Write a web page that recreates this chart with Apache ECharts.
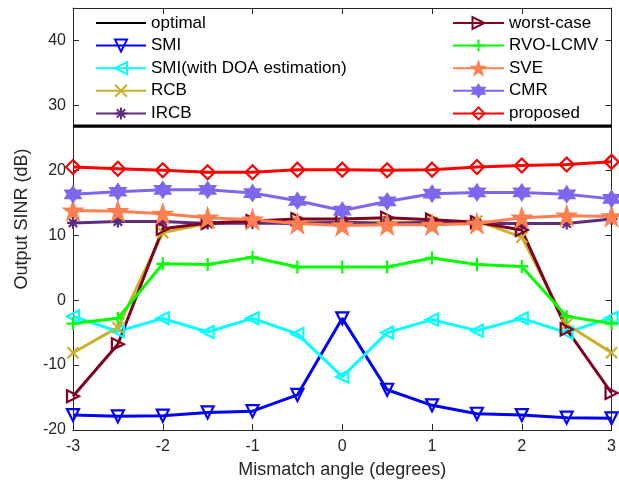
<!DOCTYPE html>
<html>
<head>
<meta charset="utf-8">
<script src="https://cdn.jsdelivr.net/npm/echarts@6/dist/echarts.min.js"></script>
<style>
  html, body { margin: 0; padding: 0; background: #fff; }
  #chart { width: 619px; height: 496px; }
</style>
</head>
<body>
<div id="chart"></div>
<script>
// mismatch angles in degrees
var angles = [-3, -2.5, -2, -1.5, -1, -0.5, 0, 0.5, 1, 1.5, 2, 2.5, 3];

// output SINR (dB)
var optimal   = [26.8, 26.8, 26.8, 26.8, 26.8, 26.8, 26.8, 26.8, 26.8, 26.8, 26.8, 26.8, 26.8];
var smi       = [-17.7, -17.9, -17.8, -17.3, -17.1, -14.6, -2.8, -13.8, -16.2, -17.5, -17.7, -18.1, -18.2];
var smiDoa    = [-2.5, -4.8, -2.8, -4.9, -2.8, -5.2, -11.8, -5.0, -3.0, -4.7, -2.8, -5.0, -2.7];
var rcb       = [-8.1, -4.2, 10.4, 11.8, 12.1, 12.0, 12.0, 12.0, 12.0, 12.2, 9.7, -3.7, -8.1];
var ircb      = [11.9, 12.1, 12.1, 11.8, 11.9, 11.8, 12.0, 11.8, 12.0, 11.8, 11.8, 11.8, 12.5];
var worstCase = [-14.8, -6.8, 11.0, 11.9, 12.2, 12.5, 12.5, 12.7, 12.4, 12.0, 10.8, -4.5, -14.3];
var rvoLcmv   = [-3.6, -2.8, 5.6, 5.5, 6.6, 5.1, 5.1, 5.1, 6.5, 5.5, 5.2, -2.5, -3.6];
var sve       = [13.8, 13.7, 13.3, 12.7, 12.4, 11.8, 11.5, 11.6, 11.6, 11.8, 12.7, 13.0, 12.9];
var cmr       = [16.3, 16.7, 17.0, 17.0, 16.5, 15.3, 13.8, 15.2, 16.4, 16.6, 16.6, 16.3, 15.6];
var proposed  = [20.5, 20.25, 20.0, 19.7, 19.7, 20.1, 20.1, 20.0, 20.1, 20.5, 20.75, 20.9, 21.3];

var yTicks = [-20, -10, 0, 10, 20, 30, 40];

var axisColor = '#262626';
var font = 'Liberation Sans, Arial, Helvetica, sans-serif';

var sym = {
  down:  'path://M0,0L10,0L5,9Z',
  left:  'path://M9,0L9,10L0,5Z',
  right: 'path://M0,0L0,10L9,5Z',
  cross: 'path://M0,0L10,10M10,0L0,10',
  plus:  'path://M5,0L5,10M0,5L10,5',
  aster: 'path://M5,0L5,10M0,5L10,5M1.5,1.5L8.5,8.5M8.5,1.5L1.5,8.5',
  penta: 'path://M5,0L6.2,3.6L10,3.6L6.9,5.9L8.1,9.5L5,7.3L1.9,9.5L3.1,5.9L0,3.6L3.8,3.6Z',
  hexa:  'path://M5,0L6.4,2.5L9.3,2.5L7.9,5L9.3,7.5L6.4,7.5L5,10L3.6,7.5L0.7,7.5L2.1,5L0.7,2.5L3.6,2.5Z'
};

function pairs(vals) {
  return angles.map(function (a, i) { return [a, vals[i]]; });
}

function mk(name, vals, color, symbol, size, hollow) {
  return {
    name: name,
    type: 'line',
    data: pairs(vals),
    symbol: symbol,
    symbolSize: size,
    showSymbol: true,
    lineStyle: { color: color, width: 3 },
    itemStyle: {
      color: hollow ? 'rgba(255,255,255,0)' : color,
      borderColor: color,
      borderWidth: 2.2
    },
    emphasis: { disabled: true },
    z: 3
  };
}

var series = [
  {
    name: 'optimal', type: 'line', data: pairs(optimal),
    symbol: 'circle', symbolSize: 0, showSymbol: false,
    lineStyle: { color: '#000', width: 3.4 }, itemStyle: { color: '#000', opacity: 0 },
    emphasis: { disabled: true }
  },
  mk('SMI', smi, '#0000ff', sym.down, 12, true),
  mk('SMI(with DOA estimation)', smiDoa, '#00ffff', sym.left, 12, true),
  mk('RCB', rcb, '#cbb02a', sym.cross, 11, true),
  mk('IRCB', ircb, '#5e2d7c', sym.aster, 12, true),
  mk('worst-case', worstCase, '#800020', sym.right, 12, true),
  mk('RVO-LCMV', rvoLcmv, '#00ff00', sym.plus, 13, true),
  mk('SVE', sve, '#ff7f50', sym.penta, 17, false),
  mk('CMR', cmr, '#7b68ee', sym.hexa, 15, false),
  mk('proposed', proposed, '#ff0000', 'diamond', 14, true)
];

var legendText = { fontFamily: font, fontSize: 17, color: '#000' };

var chart = echarts.init(document.getElementById('chart'));
chart.setOption({
  animation: false,
  backgroundColor: '#fff',
  grid: { left: 73, right: 7, top: 8, bottom: 66 },
  legend: [
    {
      data: ['optimal', 'SMI', 'SMI(with DOA estimation)', 'RCB', 'IRCB'],
      orient: 'vertical', left: 90, top: 9.5,
      itemWidth: 50, itemHeight: 15, itemGap: 5.6,
      textStyle: legendText, selectedMode: false
    },
    {
      data: ['worst-case', 'RVO-LCMV', 'SVE', 'CMR', 'proposed'],
      orient: 'vertical', left: 447, top: 9.5,
      itemWidth: 51, itemHeight: 15, itemGap: 5.6,
      textStyle: legendText, selectedMode: false
    }
  ],
  xAxis: [
    {
      type: 'value', min: -3, max: 3, interval: 1,
      name: 'Mismatch angle (degrees)', nameLocation: 'middle', nameGap: 31,
      nameTextStyle: { fontFamily: font, fontSize: 18, color: axisColor },
      axisLine: { onZero: false, lineStyle: { color: axisColor, width: 1 } },
      axisTick: { inside: true, length: 6, lineStyle: { color: axisColor } },
      axisLabel: { fontFamily: font, fontSize: 16, color: axisColor, margin: 9 },
      splitLine: { show: false }
    },
    {
      type: 'value', min: -3, max: 3, interval: 1, position: 'top',
      axisLine: { onZero: false, lineStyle: { color: axisColor, width: 1 } },
      axisTick: { inside: true, length: 6, lineStyle: { color: axisColor } },
      axisLabel: { show: false },
      splitLine: { show: false }
    }
  ],
  yAxis: [
    {
      type: 'value', min: -20, max: 45, interval: 10,
      name: 'Output SINR (dB)', nameLocation: 'middle', nameGap: 42,
      nameTextStyle: { fontFamily: font, fontSize: 18, color: axisColor },
      axisLine: { show: true, onZero: false, lineStyle: { color: axisColor, width: 1 } },
      axisTick: { show: true, inside: true, length: 6, lineStyle: { color: axisColor } },
      axisLabel: {
        fontFamily: font, fontSize: 16, color: axisColor, margin: 7,
        formatter: function (v) { return yTicks.indexOf(v) >= 0 ? String(v) : ''; }
      },
      splitLine: { show: false }
    },
    {
      type: 'value', min: -20, max: 45, interval: 10, position: 'right',
      axisLine: { show: true, onZero: false, lineStyle: { color: axisColor, width: 1 } },
      axisTick: { show: true, inside: true, length: 6, lineStyle: { color: axisColor } },
      axisLabel: { show: false },
      splitLine: { show: false }
    }
  ],
  series: series
});
</script>
</body>
</html>
